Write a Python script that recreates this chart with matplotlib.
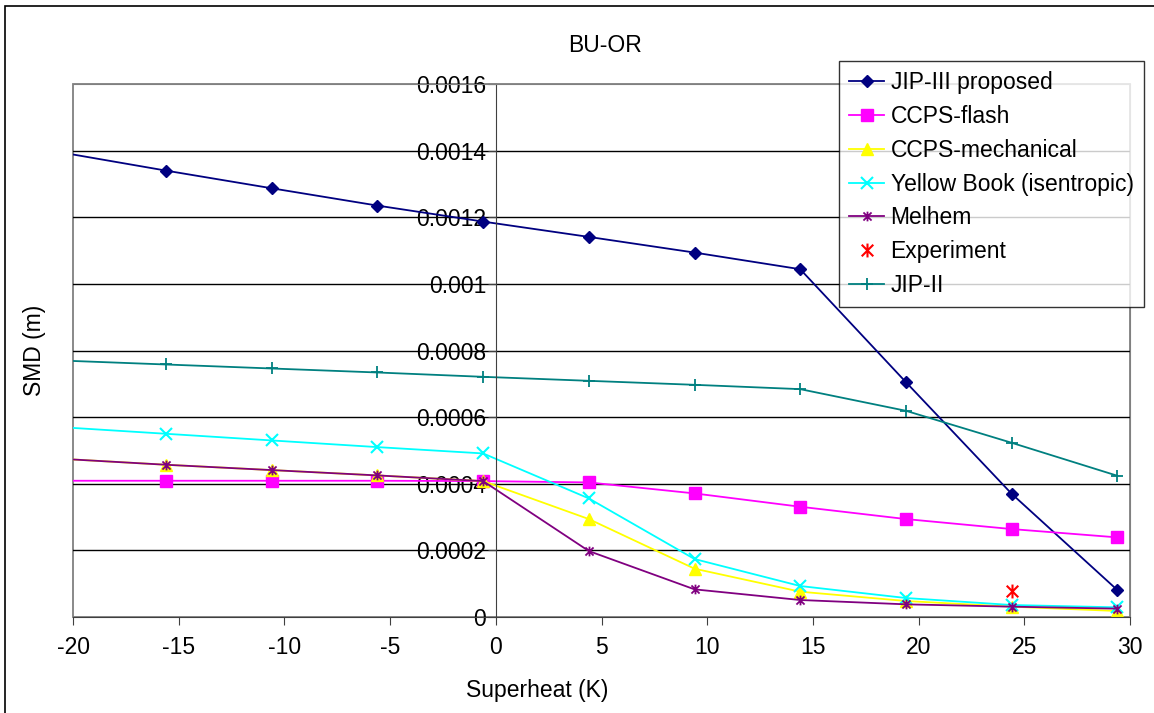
import matplotlib
matplotlib.use("Agg")
import matplotlib.pyplot as plt
from matplotlib.path import Path
from matplotlib.patches import Rectangle

plt.rcParams['font.family'] = ['Liberation Sans', 'DejaVu Sans']
plt.rcParams['axes.unicode_minus'] = False

superheat = [-20.6, -15.6, -10.6, -5.6, -0.6, 4.4, 9.4, 14.4, 19.4, 24.4, 29.4]

jip3 = [0.001395, 0.001340, 0.001287, 0.001235, 0.001187, 0.001141,
        0.001094, 0.001044, 0.000705, 0.000370, 0.000081]
ccps_flash = [0.000409, 0.000409, 0.000409, 0.000409, 0.000408, 0.000404,
              0.000371, 0.000331, 0.000294, 0.000264, 0.000239]
ccps_mech = [0.000475, 0.000457, 0.000441, 0.000425, 0.000408, 0.000294,
             0.000145, 0.000076, 0.000048, 0.000031, 0.000018]
yellow_book = [0.000570, 0.000550, 0.000530, 0.000510, 0.000491, 0.000356,
               0.000174, 0.000093, 0.000057, 0.000036, 0.000029]
melhem = [0.000475, 0.000457, 0.000441, 0.000425, 0.000408, 0.000198,
          0.000083, 0.000051, 0.000038, 0.000031, 0.000025]
exp_x = [24.4]
exp_y = [0.000079]
jip2 = [0.000770, 0.000758, 0.000746, 0.000734, 0.000721, 0.000709,
        0.000697, 0.000684, 0.000619, 0.000523, 0.000424]

xticks = [-20, -15, -10, -5, 0, 5, 10, 15, 20, 25, 30]
yticks = [0, 0.0002, 0.0004, 0.0006, 0.0008, 0.001, 0.0012, 0.0014, 0.0016]

# excel style asterisk: an x with a vertical bar through it
star = Path([(-1, -1), (1, 1), (-1, 1), (1, -1), (0, -1.2), (0, 1.2)],
            [Path.MOVETO, Path.LINETO, Path.MOVETO, Path.LINETO,
             Path.MOVETO, Path.LINETO])

fs = 16.5

fig = plt.figure(figsize=(11.54, 7.13), dpi=100)
ax = fig.add_axes([73 / 1154, 1 - 617 / 713, (1130 - 73) / 1154, (617 - 84) / 713])

lw = 1.3
ax.plot(superheat, jip3, color='#000080', lw=lw, marker='D', ms=6,
        label='JIP-III proposed')
ax.plot(superheat, ccps_flash, color='#FF00FF', lw=lw, marker='s', ms=8,
        label='CCPS-flash')
ax.plot(superheat, ccps_mech, color='#FFFF00', lw=lw, marker='^', ms=8,
        label='CCPS-mechanical')
ax.plot(superheat, yellow_book, color='#00FFFF', lw=lw, marker='x', ms=8,
        mew=1.5, label='Yellow Book (isentropic)')
ax.plot(superheat, melhem, color='#800080', lw=lw, marker=star, ms=7,
        mew=1.3, mfc='none', label='Melhem')
ax.plot(exp_x, exp_y, color='#FF0000', lw=0, marker=star, ms=10,
        mew=1.5, mfc='none', label='Experiment')
ax.plot(superheat, jip2, color='#008080', lw=lw, marker='+', ms=9,
        mew=1.3, label='JIP-II')

ax.set_xlim(-20, 30)
ax.set_ylim(0, 0.0016)
ax.set_xticks(xticks)
ax.set_yticks(yticks)
ax.set_yticklabels(['%g' % v for v in yticks])
ax.tick_params(labelsize=fs, length=6, color='#404040')
ax.tick_params(axis='x', pad=8)
ax.tick_params(axis='y', pad=1)

for v in yticks[1:-1]:
    ax.axhline(v, color='black', lw=1, zorder=0.5)

# value axis crosses at x = 0
ax.spines['left'].set_position(('data', 0))
ax.spines['left'].set_color('#404040')
ax.spines['bottom'].set_color('#404040')
for s in ('top', 'right'):
    ax.spines[s].set_color('#808080')
ax.add_patch(Rectangle((0, 0), 1, 1, transform=ax.transAxes, fill=False,
                       ec='#808080', lw=1.3, zorder=0.4, clip_on=False))

fig.text(537 / 1154, 1 - 690 / 713, 'Superheat (K)', fontsize=fs,
         ha='center', va='center')
fig.text(35 / 1154, 1 - 350 / 713, 'SMD (m)', fontsize=fs, rotation=90,
         ha='center', va='center')
fig.text(605 / 1154, 1 - 45 / 713, 'BU-OR', fontsize=fs, ha='center',
         va='center')

leg = ax.legend(loc='upper left', bbox_to_anchor=(839 / 1154, 1 - 61 / 713),
                bbox_transform=fig.transFigure, borderaxespad=0, fontsize=fs,
                frameon=True, fancybox=False, edgecolor='black',
                handlelength=1.5, handletextpad=0.3, labelspacing=0.47,
                borderpad=0.45)
leg.get_frame().set_linewidth(1)

# chart area border
fig.patches.append(Rectangle((5 / 1154, -0.1), 1.2, 1 - 6 / 713 + 0.1,
                             transform=fig.transFigure, fill=False,
                             ec='black', lw=1.2))

fig.savefig('out.png', dpi=100)
